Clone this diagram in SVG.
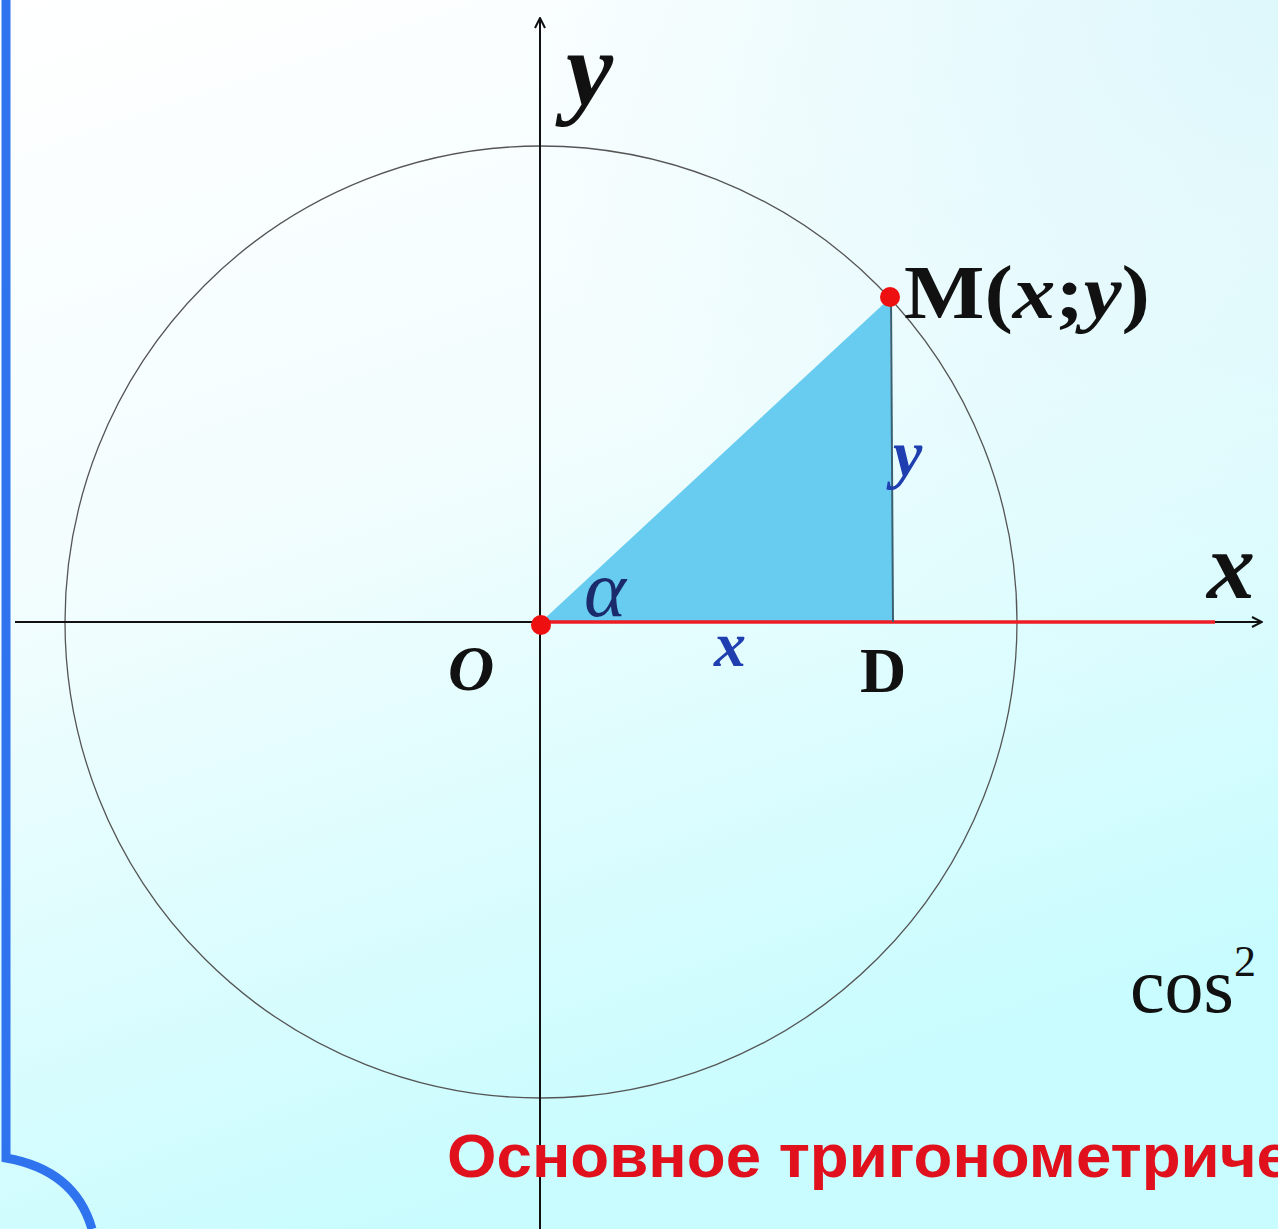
<svg xmlns="http://www.w3.org/2000/svg" width="1278" height="1229" viewBox="0 0 1278 1229">
<defs>
<linearGradient id="bg" x1="0" y1="0" x2="0.35" y2="1">
<stop offset="0" stop-color="#ffffff"/>
<stop offset="0.45" stop-color="#f2fdfe"/>
<stop offset="1" stop-color="#c8fcfe"/>
</linearGradient>
<radialGradient id="tr" cx="1" cy="0" r="0.6">
<stop offset="0" stop-color="#d8f6fb" stop-opacity="0.8"/>
<stop offset="1" stop-color="#d8f6fb" stop-opacity="0"/>
</radialGradient>
<marker id="arr" viewBox="0 0 12 12" refX="11" refY="6" markerWidth="12" markerHeight="12" markerUnits="userSpaceOnUse" orient="auto">
<path d="M1,1 L11,6 L1,11" fill="none" stroke="#111" stroke-width="2"/>
</marker>
<style>
.ser{font-family:"Liberation Serif","Times New Roman",serif}
.lbl{font-weight:bold;fill:#111}
.blue{fill:#1f3fb0;font-style:italic;font-weight:bold}
</style>
</defs>
<rect width="1278" height="1229" fill="url(#bg)"/>
<rect width="1278" height="1229" fill="url(#tr)"/>
<path d="M6,0 V1158 Q75,1170 92,1229" fill="none" stroke="#2f73ee" stroke-width="9"/>
<g id="triangle"><polygon points="541,622 890,298 893,622" fill="#67ccf0"/></g>
<g id="circle"><circle cx="541" cy="622" r="476" fill="none" stroke="#555" stroke-width="1.3"/></g>
<g id="connectors">
<line x1="15" y1="622" x2="1262" y2="622" stroke="#111" stroke-width="2" marker-end="url(#arr)"/>
<line x1="541" y1="622" x2="1215" y2="622" stroke="#ee1c24" stroke-width="3.5"/>
<line x1="540" y1="1229" x2="540" y2="18" stroke="#111" stroke-width="2" marker-end="url(#arr)"/>
<line x1="891" y1="298" x2="893" y2="622" stroke="#3a6070" stroke-width="2"/>
</g>
<g id="O"><circle cx="541" cy="625" r="10" fill="#ee1010"/><text x="448" y="690" class="ser lbl" font-size="64" font-style="italic">O</text></g>
<g id="M"><circle cx="890" cy="297" r="10" fill="#ee1010"/><text x="904" y="318" class="ser lbl" font-size="76" textLength="246" lengthAdjust="spacingAndGlyphs">M(<tspan font-style="italic">x</tspan>;<tspan font-style="italic">y</tspan>)</text></g>
<g id="D"><text x="860" y="692" class="ser lbl" font-size="64">D</text></g>
<g id="labels">
<text x="566" y="104" class="ser lbl" font-size="106" font-style="italic">y</text>
<text x="1207" y="598" class="ser lbl" font-size="96" font-style="italic">x</text>
<text x="893" y="476" class="ser blue" font-size="66">y</text>
<text x="714" y="666" class="ser blue" font-size="64">x</text>
<text x="584" y="616" class="ser" font-size="80" font-style="italic" fill="#1a2a6a">α</text>
<text x="1130" y="1012" class="ser" font-size="78" fill="#111">cos<tspan dy="-36" font-size="44">2</tspan></text>
<text x="447" y="1177" font-family="Liberation Sans, Arial, sans-serif" font-weight="bold" font-size="62" fill="#e0101c" textLength="845" lengthAdjust="spacingAndGlyphs">Основное тригонометриче</text>
</g>
</svg>
